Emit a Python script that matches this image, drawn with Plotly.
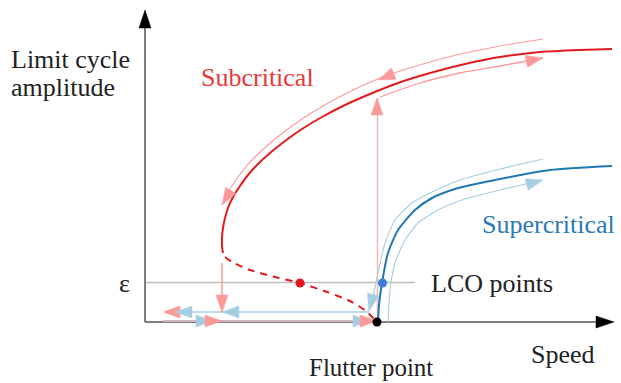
import plotly.graph_objects as go
import math

# ---- schematic data (speed, amplitude) in figure units (y grows downward) ----
sub_stable_x = [223, 222, 222, 223, 225, 228, 233, 240, 248, 258, 270, 285, 302, 322, 345, 370, 398, 430, 465, 500, 540, 580, 612]
sub_stable_y = [253, 246, 238, 228, 218, 208, 197, 186, 175, 164, 153, 141, 129, 117, 105, 94, 83, 73, 64, 57, 52, 50, 49]
sub_unstable_x = [225, 232, 250, 275, 300, 327, 350, 366, 377]
sub_unstable_y = [257, 262, 270, 277, 283, 292, 301, 311, 322]
sup_x = [378, 379, 382, 388, 398, 415, 432, 455, 500, 550, 612]
sup_y = [322, 305, 283, 253, 230, 210, 198, 189, 179, 170, 166]

# hysteresis paths
red_out_x = [543, 500, 465, 430, 400, 373, 347, 323, 302, 284, 268, 255, 244, 236, 228, 222]
red_out_y = [39, 46, 53, 62, 71, 81, 93, 106, 119, 132, 145, 157, 169, 180, 192, 205]
red_in_x = [380, 420, 460, 500, 543]
red_in_y = [97, 83, 73, 66, 58]
blue_out_x = [543, 500, 460, 432, 412, 395, 385, 378, 373, 369]
blue_out_y = [159, 169, 180, 192, 203, 220, 243, 273, 297, 311]
blue_in_x = [388, 390, 395, 405, 418, 438, 465, 500, 543]
blue_in_y = [322, 290, 263, 240, 223, 210, 199, 190, 180]

# arrowheads: tip x, tip y, direction dx, dy, colour key
arrows = [
    (163, 312, -1, 0, "lr"), (175, 312, -1, 0, "lb"),
    (222, 312, 0, 1, "lr"), (222, 312, -1, 0, "lb"),
    (213, 321, 1, 0, "lb"), (222, 321, 1, 0, "lr"),
    (370, 321, 1, 0, "lb"), (377, 321, 1, 0, "lr"),
    (369, 311, -0.25, 1, "lb"),
    (377, 98, 0, -1, "lr"),
    (543, 58, 1, -0.2, "lr"),
    (378, 80, -1, 0.4, "lr"),
    (222, 205, -0.6, 1, "lr"),
    (543, 180, 1, -0.27, "lb"),
]

C = {"r": "#e31a1c", "lr": "#fb9a99", "b": "#1f78b4", "lb": "#a6cee3"}

fig = go.Figure()

def line(x, y, color, width, dash=None, shape="spline", opacity=1.0):
    fig.add_trace(go.Scatter(x=x, y=y, mode="lines", opacity=opacity,
                             line=dict(color=color, width=width, dash=dash, shape=shape, smoothing=0.6),
                             hoverinfo="skip", showlegend=False))

def tri(tx, ty, dx, dy, color, L=17, W=12):
    n = math.hypot(dx, dy)
    ux, uy = dx / n, dy / n
    bx, by = tx - L * ux, ty - L * uy
    px, py = -uy, ux
    xs = [tx, bx + W / 2 * px, bx - W / 2 * px, tx]
    ys = [ty, by + W / 2 * py, by - W / 2 * py, ty]
    fig.add_trace(go.Scatter(x=xs, y=ys, mode="lines", fill="toself", fillcolor=color,
                             line=dict(color=color, width=0.5), hoverinfo="skip", showlegend=False))

# epsilon line
line([145, 415], [282.5, 282.5], "#bdbdbd", 1.3, shape="linear")

# axes
line([145, 145], [322, 24], "#555555", 1.5, shape="linear")
line([145, 598], [322, 322], "#555555", 1.5, shape="linear")
tri(145, 10, 0, -1, "black", L=18, W=12)
tri(614, 322, 1, 0, "black", L=18, W=12)

# bottom paths
line([163, 377], [321, 321], "#a6cee3", 2, shape="linear")
line([163, 377], [321, 321], "#fb9a99", 2, shape="linear", opacity=0.45)
line([175, 369], [312, 312], "#a6cee3", 1.5, shape="linear")
line([222, 222], [263, 312], "#fb9a99", 1.5, shape="linear")
line([377.5, 377.5], [322, 98], "#fbb4b4", 1.5, shape="linear")

# hysteresis thin paths
line(red_out_x, red_out_y, C["lr"], 1.1)
line(red_in_x, red_in_y, C["lr"], 1.3)
line(blue_out_x, blue_out_y, C["lb"], 1.1)
line(blue_in_x, blue_in_y, C["lb"], 1.1)

# main branches
line(sub_stable_x, sub_stable_y, C["r"], 2)
line(sub_unstable_x, sub_unstable_y, C["r"], 2, dash="7px,6px")
line(sup_x, sup_y, C["b"], 2)

for tx, ty, dx, dy, ck in arrows:
    tri(tx, ty, dx, dy, C[ck])

# points
fig.add_trace(go.Scatter(x=[300], y=[283], mode="markers", marker=dict(color=C["r"], size=9),
                         hoverinfo="skip", showlegend=False))
fig.add_trace(go.Scatter(x=[382.5], y=[283], mode="markers", marker=dict(color="#3d7fd6", size=9),
                         hoverinfo="skip", showlegend=False))
fig.add_trace(go.Scatter(x=[377], y=[322], mode="markers", marker=dict(color="black", size=9),
                         hoverinfo="skip", showlegend=False))

FONT = "Liberation Serif, DejaVu Serif, serif"
def text(x, y, s, color="#222222", size=26, anchor="left"):
    fig.add_annotation(x=x, y=y, text=s, showarrow=False, xanchor=anchor, yanchor="middle",
                       borderpad=0, font=dict(family=FONT, size=size, color=color))

text(10, 59, "Limit cycle")
text(10, 87, "amplitude")
text(200, 77, "Subcritical", "#e8383b")
text(481, 224, "Supercritical", "#2a7ab8")
text(430, 283, "LCO points")
text(131, 283, "ε", anchor="right")
text(530, 354, "Speed")
text(308, 367, "Flutter point", size=25)

fig.update_layout(width=621, height=383, margin=dict(l=0, r=0, t=0, b=0),
                  plot_bgcolor="white", paper_bgcolor="white",
                  xaxis=dict(range=[0, 621], visible=False, fixedrange=True),
                  yaxis=dict(range=[383, 0], visible=False, fixedrange=True))

fig.write_html("out.html")
